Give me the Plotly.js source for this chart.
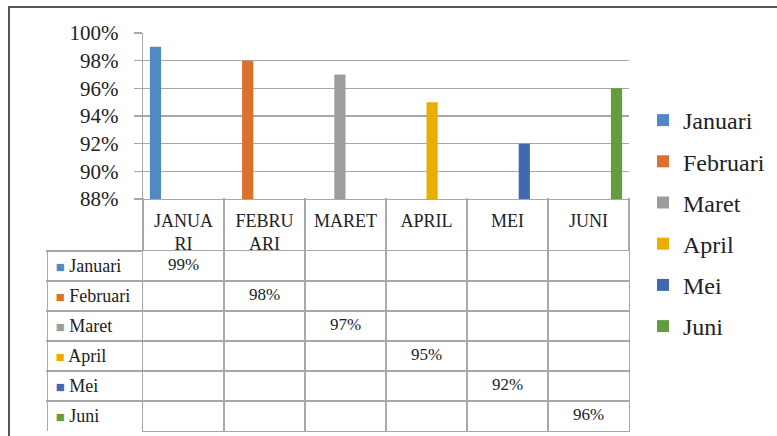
<!DOCTYPE html>
<html>
<head>
<meta charset="utf-8">
<script src="https://cdn.plot.ly/plotly-3.0.1.min.js"></script>
<style>
  html, body { margin: 0; padding: 0; background: #fff; }
  #wrap { position: relative; width: 777px; height: 436px; overflow: hidden; }
  #chart { position: absolute; left: 0; top: 0; width: 777px; height: 436px; }
  .bt { position: absolute; left: 9px; top: 6px; width: 768px; height: 2px; background: #555; z-index: 5; }
  .bl { position: absolute; left: 8px; top: 6px; width: 2px; height: 430px; background: #555; z-index: 5; }
</style>
</head>
<body>
<div id="wrap">
  <div id="chart"></div>
  <div class="bt"></div>
  <div class="bl"></div>
</div>
<script>
// ---- data ----
const categories = ['JANUARI', 'FEBRUARI', 'MARET', 'APRIL', 'MEI', 'JUNI'];
const headerLabels = ['JANUA<br>RI', 'FEBRU<br>ARI', 'MARET', 'APRIL', 'MEI', 'JUNI'];
const seriesNames = ['Januari', 'Februari', 'Maret', 'April', 'Mei', 'Juni'];
const seriesValues = [0.99, 0.98, 0.97, 0.95, 0.92, 0.96];

// ---- styles ----
const colors = ['#5189C5', '#DA712D', '#9D9D9D', '#EAAE00', '#4068B3', '#659C40'];
const serif = 'Liberation Serif, serif';
const gridCol = '#A8A8A8';
const lw = 1.2;
const W = 777, H = 436;
const px = v => v / W;
const py = v => (H - v) / H;
const catRange = [-0.5, categories.length - 0.5];
const rowRange = [seriesNames.length - 0.5, -0.5];

// bars: one trace per series, value only in its own category
const traces = seriesNames.map((name, i) => ({
  type: 'bar',
  name: name,
  legendgroup: name,
  x: categories,
  y: categories.map((c, j) => (j === i ? seriesValues[i] : null)),
  marker: { color: colors[i] },
  hoverinfo: 'skip'
}));

// data table values (text in the table grid)
const fmt = v => Math.round(v * 100) + '%';
traces.push({
  type: 'scatter',
  mode: 'text',
  x: categories,
  y: seriesNames,
  text: seriesValues.map(fmt),
  textposition: 'middle center',
  textfont: { family: serif, size: 17, color: '#222' },
  xaxis: 'x2', yaxis: 'y2',
  showlegend: false,
  hoverinfo: 'skip',
  cliponaxis: false
});
// row-label axis of the table (draws nothing itself)
traces.push({
  type: 'scatter',
  mode: 'none',
  x: categories,
  y: seriesNames,
  xaxis: 'x2', yaxis: 'y3',
  showlegend: false,
  hoverinfo: 'skip'
});

const rowLabels = seriesNames.map((n, i) =>
  '<span style="color:' + colors[i] + ';font-size:15px">■</span> ' + n);

const layout = {
  width: W, height: H,
  margin: { l: 0, r: 0, t: 0, b: 0 },
  paper_bgcolor: 'white', plot_bgcolor: 'rgba(0,0,0,0)',
  font: { family: serif, color: '#222' },
  barmode: 'group',
  bargap: 0.17,
  bargroupgap: 0,
  showlegend: true,
  legend: {
    x: px(643), xanchor: 'left',
    y: py(98), yanchor: 'top',
    traceorder: 'grouped',
    tracegroupgap: 7,
    font: { family: serif, size: 24, color: '#222' },
    bgcolor: 'rgba(0,0,0,0)'
  },
  // bar plot
  xaxis: {
    type: 'category',
    categoryorder: 'array', categoryarray: categories,
    range: catRange,
    domain: [px(143), px(629)],
    anchor: 'y',
    tickvals: categories, ticktext: headerLabels,
    tickfont: { family: serif, size: 18, color: '#222' },
    ticks: '', ticklabelstandoff: 5,
    showgrid: false, zeroline: false,
    showline: true, linecolor: gridCol, linewidth: lw,
    fixedrange: true
  },
  yaxis: {
    domain: [py(199), py(33)],
    anchor: 'x',
    range: [0.88, 1.0],
    dtick: 0.02,
    tickformat: '.0%',
    showgrid: true, gridcolor: gridCol, gridwidth: lw,
    showline: true, linecolor: gridCol, linewidth: lw,
    ticks: 'outside', ticklen: 8, tickcolor: gridCol, tickwidth: lw,
    ticklabelstandoff: 11,
    tickfont: { family: serif, size: 21, color: '#222' },
    zeroline: false, fixedrange: true
  },
  // data table grid
  xaxis2: {
    type: 'category',
    categoryorder: 'array', categoryarray: categories,
    range: catRange,
    domain: [px(143), px(629)],
    anchor: 'y2',
    side: 'top',
    tickson: 'boundaries',
    ticks: 'outside', ticklen: 52, tickcolor: gridCol, tickwidth: lw,
    showticklabels: false,
    showgrid: true, gridcolor: gridCol, gridwidth: lw,
    showline: true, mirror: true, linecolor: gridCol, linewidth: lw,
    zeroline: false, fixedrange: true
  },
  yaxis2: {
    type: 'category',
    categoryorder: 'array', categoryarray: seriesNames,
    range: rowRange,
    domain: [py(431), py(251)],
    anchor: 'x2',
    tickson: 'boundaries',
    ticks: 'outside', ticklen: 96, tickcolor: gridCol, tickwidth: lw,
    showticklabels: false,
    showgrid: true, gridcolor: gridCol, gridwidth: lw,
    showline: true, mirror: true, linecolor: gridCol, linewidth: lw,
    zeroline: false, fixedrange: true
  },
  yaxis3: {
    type: 'category',
    categoryorder: 'array', categoryarray: seriesNames,
    range: rowRange,
    overlaying: 'y2',
    anchor: 'free',
    position: px(47),
    side: 'right',
    tickvals: seriesNames, ticktext: rowLabels,
    tickfont: { family: serif, size: 18, color: '#222' },
    ticks: '', ticklabelstandoff: 4,
    showgrid: false, zeroline: false,
    showline: true, linecolor: gridCol, linewidth: lw,
    fixedrange: true
  }
};

Plotly.newPlot('chart', traces, layout, { staticPlot: true, displayModeBar: false });
</script>
</body>
</html>
